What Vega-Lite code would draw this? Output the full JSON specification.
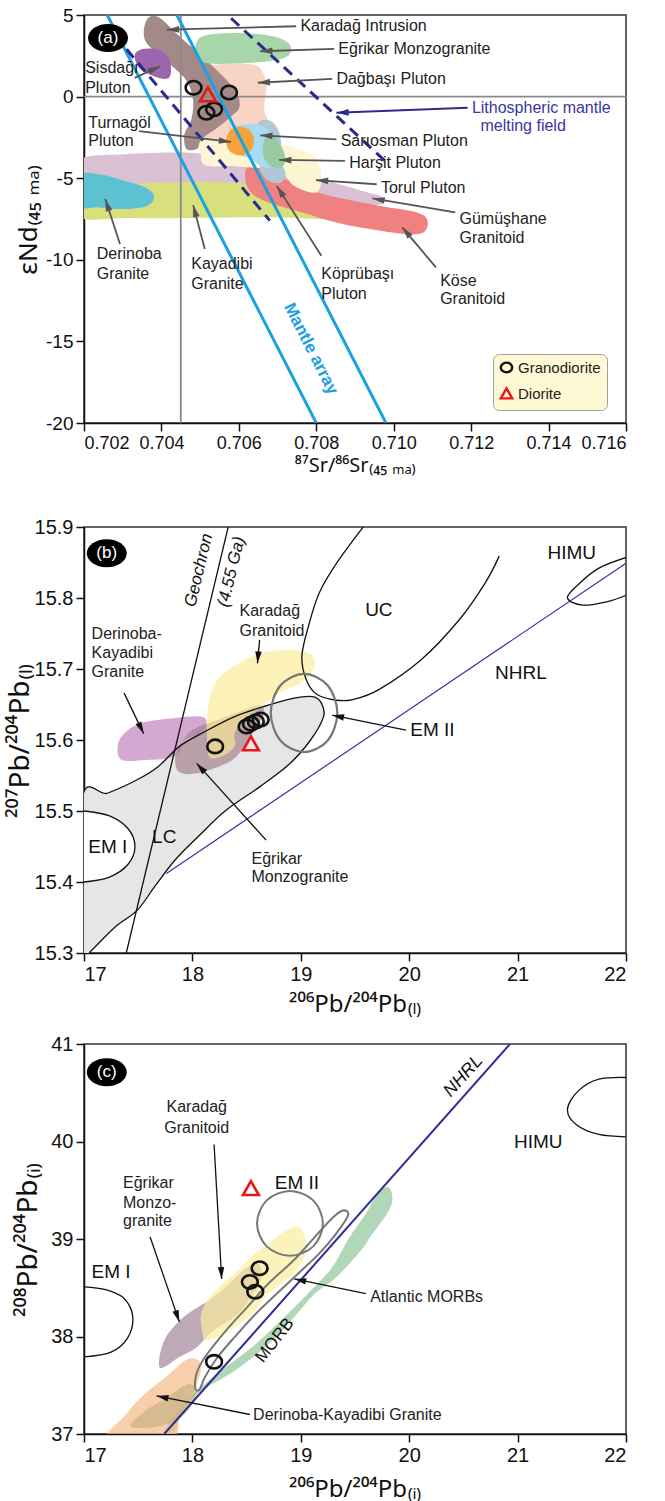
{
  "$schema": "https://vega.github.io/schema/vega-lite/v6.json",
  "background": "white",
  "padding": {"left": 5, "top": 5, "right": 5, "bottom": 0},
  "bounds": "flush",
  "spacing": 104,
  "config": {
    "font": "Liberation Sans",
    "view": {"stroke": "#333", "strokeWidth": 1.5},
    "axis": {
      "grid": false, "domainColor": "#111", "domainWidth": 1.5, "tickColor": "#111", "tickWidth": 1.5, "tickSize": 8,
      "labelFont": "Liberation Sans", "labelFontSize": 19, "labelColor": "#111", "labelPadding": 3,
      "titleFont": "Noto Sans", "titleFontWeight": "normal", "titleColor": "#111"
    },
    "text": {"font": "Liberation Sans"}
  },
  "datasets": {
    "blob": [
      {"p":"a","k":"a01","x":0.7019,"y":-3.84},{"p":"a","k":"a01","x":0.703041,"y":-3.53},{"p":"a","k":"a01","x":0.704355,"y":-3.43},{"p":"a","k":"a01","x":0.705232,"y":-3.53},{"p":"a","k":"a01","x":0.705889,"y":-3.84},{"p":"a","k":"a01","x":0.706327,"y":-4.14},{"p":"a","k":"a01","x":0.707423,"y":-4.45},{"p":"a","k":"a01","x":0.708299,"y":-5.16},{"p":"a","k":"a01","x":0.709175,"y":-5.77},{"p":"a","k":"a01","x":0.709723,"y":-6.18},{"p":"a","k":"a01","x":0.709669,"y":-6.59},{"p":"a","k":"a01","x":0.709175,"y":-6.59},{"p":"a","k":"a01","x":0.708299,"y":-6.08},{"p":"a","k":"a01","x":0.707423,"y":-5.67},{"p":"a","k":"a01","x":0.706327,"y":-5.37},{"p":"a","k":"a01","x":0.705232,"y":-5.37},{"p":"a","k":"a01","x":0.704136,"y":-5.37},{"p":"a","k":"a01","x":0.703041,"y":-5.47},{"p":"a","k":"a01","x":0.7019,"y":-5.47},
      {"p":"a","k":"a02","x":0.7019,"y":-5.47},{"p":"a","k":"a02","x":0.703041,"y":-5.37},{"p":"a","k":"a02","x":0.704136,"y":-5.26},{"p":"a","k":"a02","x":0.705232,"y":-5.22},{"p":"a","k":"a02","x":0.706327,"y":-5.37},{"p":"a","k":"a02","x":0.707423,"y":-5.88},{"p":"a","k":"a02","x":0.708299,"y":-6.59},{"p":"a","k":"a02","x":0.709066,"y":-7.2},{"p":"a","k":"a02","x":0.708518,"y":-7.51},{"p":"a","k":"a02","x":0.707423,"y":-7.44},{"p":"a","k":"a02","x":0.706327,"y":-7.4},{"p":"a","k":"a02","x":0.704136,"y":-7.46},{"p":"a","k":"a02","x":0.703041,"y":-7.44},{"p":"a","k":"a02","x":0.7019,"y":-7.4},
      {"p":"a","k":"a03","x":0.7019,"y":-4.86},{"p":"a","k":"a03","x":0.702383,"y":-4.76},{"p":"a","k":"a03","x":0.703041,"y":-5.16},{"p":"a","k":"a03","x":0.703588,"y":-5.57},{"p":"a","k":"a03","x":0.703808,"y":-6.08},{"p":"a","k":"a03","x":0.703643,"y":-6.69},{"p":"a","k":"a03","x":0.703041,"y":-6.89},{"p":"a","k":"a03","x":0.702383,"y":-6.79},{"p":"a","k":"a03","x":0.7019,"y":-6.69},
      {"p":"a","k":"a04","x":0.706163,"y":-4.65},{"p":"a","k":"a04","x":0.706327,"y":-4.25},{"p":"a","k":"a04","x":0.706765,"y":-4.35},{"p":"a","k":"a04","x":0.707204,"y":-5.06},{"p":"a","k":"a04","x":0.707861,"y":-5.77},{"p":"a","k":"a04","x":0.708737,"y":-6.28},{"p":"a","k":"a04","x":0.709614,"y":-6.69},{"p":"a","k":"a04","x":0.7106,"y":-7.1},{"p":"a","k":"a04","x":0.710874,"y":-7.61},{"p":"a","k":"a04","x":0.710764,"y":-8.32},{"p":"a","k":"a04","x":0.710271,"y":-8.42},{"p":"a","k":"a04","x":0.709395,"y":-8.12},{"p":"a","k":"a04","x":0.708518,"y":-7.71},{"p":"a","k":"a04","x":0.707642,"y":-7.1},{"p":"a","k":"a04","x":0.706765,"y":-6.49},{"p":"a","k":"a04","x":0.706272,"y":-5.77},
      {"p":"a","k":"a05","x":0.705013,"y":-2.62},{"p":"a","k":"a05","x":0.705451,"y":-2.31},{"p":"a","k":"a05","x":0.705999,"y":-2.52},{"p":"a","k":"a05","x":0.706765,"y":-2.82},{"p":"a","k":"a05","x":0.707423,"y":-3.13},{"p":"a","k":"a05","x":0.707916,"y":-3.64},{"p":"a","k":"a05","x":0.708135,"y":-4.65},{"p":"a","k":"a05","x":0.70808,"y":-5.67},{"p":"a","k":"a05","x":0.707861,"y":-5.88},{"p":"a","k":"a05","x":0.707423,"y":-5.47},{"p":"a","k":"a05","x":0.707204,"y":-4.86},{"p":"a","k":"a05","x":0.706875,"y":-4.45},{"p":"a","k":"a05","x":0.706327,"y":-4.35},{"p":"a","k":"a05","x":0.705779,"y":-4.25},{"p":"a","k":"a05","x":0.705122,"y":-4.21},{"p":"a","k":"a05","x":0.705013,"y":-3.43},
      {"p":"a","k":"a06","x":0.705232,"y":1.76},{"p":"a","k":"a06","x":0.705451,"y":1.97},{"p":"a","k":"a06","x":0.706327,"y":1.97},{"p":"a","k":"a06","x":0.706601,"y":1.56},{"p":"a","k":"a06","x":0.706711,"y":0.64},{"p":"a","k":"a06","x":0.706656,"y":-0.78},{"p":"a","k":"a06","x":0.706765,"y":-1.6},{"p":"a","k":"a06","x":0.706656,"y":-2.21},{"p":"a","k":"a06","x":0.705889,"y":-2.62},{"p":"a","k":"a06","x":0.705122,"y":-2.62},{"p":"a","k":"a06","x":0.705013,"y":-1.8},{"p":"a","k":"a06","x":0.705232,"y":-0.58},{"p":"a","k":"a06","x":0.705341,"y":0.64},
      {"p":"a","k":"a07","x":0.70361,"y":4.67},{"p":"a","k":"a07","x":0.703917,"y":4.88},{"p":"a","k":"a07","x":0.704465,"y":3.7},{"p":"a","k":"a07","x":0.705232,"y":2.07},{"p":"a","k":"a07","x":0.705889,"y":0.44},{"p":"a","k":"a07","x":0.70602,"y":-0.58},{"p":"a","k":"a07","x":0.705834,"y":-1.15},{"p":"a","k":"a07","x":0.705451,"y":-1.9},{"p":"a","k":"a07","x":0.705035,"y":-2.62},{"p":"a","k":"a07","x":0.704925,"y":-3.19},{"p":"a","k":"a07","x":0.70464,"y":-3.19},{"p":"a","k":"a07","x":0.704596,"y":-2.31},{"p":"a","k":"a07","x":0.704772,"y":-1.4},{"p":"a","k":"a07","x":0.704815,"y":-0.17},{"p":"a","k":"a07","x":0.704629,"y":1.05},{"p":"a","k":"a07","x":0.704136,"y":2.17},{"p":"a","k":"a07","x":0.703588,"y":3.39},
      {"p":"a","k":"a08","x":0.704903,"y":3.29},{"p":"a","k":"a08","x":0.705122,"y":3.74},{"p":"a","k":"a08","x":0.705889,"y":3.9},{"p":"a","k":"a08","x":0.706875,"y":3.7},{"p":"a","k":"a08","x":0.707313,"y":3.19},{"p":"a","k":"a08","x":0.707258,"y":2.47},{"p":"a","k":"a08","x":0.706765,"y":2.17},{"p":"a","k":"a08","x":0.705889,"y":2.03},{"p":"a","k":"a08","x":0.705122,"y":2.07},{"p":"a","k":"a08","x":0.704903,"y":2.68},
      {"p":"a","k":"a09","x":0.703315,"y":2.58},{"p":"a","k":"a09","x":0.703534,"y":2.92},{"p":"a","k":"a09","x":0.703917,"y":2.88},{"p":"a","k":"a09","x":0.704191,"y":2.37},{"p":"a","k":"a09","x":0.704246,"y":1.46},{"p":"a","k":"a09","x":0.704136,"y":1.09},{"p":"a","k":"a09","x":0.703808,"y":1.25},{"p":"a","k":"a09","x":0.703424,"y":1.76},
      {"p":"a","k":"a10","x":0.706492,"y":-1.6},{"p":"a","k":"a10","x":0.706765,"y":-1.44},{"p":"a","k":"a10","x":0.706985,"y":-1.9},{"p":"a","k":"a10","x":0.707094,"y":-2.82},{"p":"a","k":"a10","x":0.707039,"y":-3.84},{"p":"a","k":"a10","x":0.707204,"y":-4.65},{"p":"a","k":"a10","x":0.707094,"y":-5.26},{"p":"a","k":"a10","x":0.706765,"y":-5.16},{"p":"a","k":"a10","x":0.706546,"y":-4.45},{"p":"a","k":"a10","x":0.706601,"y":-3.64},{"p":"a","k":"a10","x":0.706492,"y":-2.62},
      {"p":"a","k":"a11","x":0.705889,"y":-2.01},{"p":"a","k":"a11","x":0.706218,"y":-1.7},{"p":"a","k":"a11","x":0.706601,"y":-1.8},{"p":"a","k":"a11","x":0.706875,"y":-2.41},{"p":"a","k":"a11","x":0.707039,"y":-3.33},{"p":"a","k":"a11","x":0.706985,"y":-4.14},{"p":"a","k":"a11","x":0.706656,"y":-4.35},{"p":"a","k":"a11","x":0.706327,"y":-3.84},{"p":"a","k":"a11","x":0.705999,"y":-3.43},
      {"p":"a","k":"a12","x":0.706656,"y":-2.62},{"p":"a","k":"a12","x":0.706875,"y":-2.41},{"p":"a","k":"a12","x":0.707094,"y":-3.02},{"p":"a","k":"a12","x":0.707204,"y":-3.84},{"p":"a","k":"a12","x":0.707094,"y":-4.35},{"p":"a","k":"a12","x":0.70682,"y":-4.25},{"p":"a","k":"a12","x":0.706634,"y":-3.64},
      {"p":"a","k":"a13","x":0.70639,"y":-2.72},{"p":"a","k":"a13","x":0.70629,"y":-2.09},{"p":"a","k":"a13","x":0.70603,"y":-1.83},{"p":"a","k":"a13","x":0.70577,"y":-2.09},{"p":"a","k":"a13","x":0.70567,"y":-2.72},{"p":"a","k":"a13","x":0.70577,"y":-3.35},{"p":"a","k":"a13","x":0.70603,"y":-3.61},{"p":"a","k":"a13","x":0.70629,"y":-3.35},
      {"p":"b","k":"b02","x":17.37,"y":15.609},{"p":"b","k":"b02","x":17.53,"y":15.624},{"p":"b","k":"b02","x":17.84,"y":15.631},{"p":"b","k":"b02","x":18.08,"y":15.633},{"p":"b","k":"b02","x":18.13,"y":15.624},{"p":"b","k":"b02","x":18.08,"y":15.609},{"p":"b","k":"b02","x":17.92,"y":15.6},{"p":"b","k":"b02","x":17.88,"y":15.581},{"p":"b","k":"b02","x":17.76,"y":15.574},{"p":"b","k":"b02","x":17.57,"y":15.572},{"p":"b","k":"b02","x":17.35,"y":15.572},{"p":"b","k":"b02","x":17.31,"y":15.591},
      {"p":"b","k":"b03","x":17.88,"y":15.591},{"p":"b","k":"b03","x":18.0,"y":15.614},{"p":"b","k":"b03","x":18.23,"y":15.628},{"p":"b","k":"b03","x":18.47,"y":15.642},{"p":"b","k":"b03","x":18.62,"y":15.649},{"p":"b","k":"b03","x":18.66,"y":15.638},{"p":"b","k":"b03","x":18.55,"y":15.609},{"p":"b","k":"b03","x":18.43,"y":15.581},{"p":"b","k":"b03","x":18.31,"y":15.567},{"p":"b","k":"b03","x":18.04,"y":15.553},{"p":"b","k":"b03","x":17.88,"y":15.555},{"p":"b","k":"b03","x":17.84,"y":15.572},
      {"p":"b","k":"b04","x":18.154,"y":15.656},{"p":"b","k":"b04","x":18.232,"y":15.685},{"p":"b","k":"b04","x":18.428,"y":15.708},{"p":"b","k":"b04","x":18.624,"y":15.722},{"p":"b","k":"b04","x":18.898,"y":15.727},{"p":"b","k":"b04","x":19.093,"y":15.721},{"p":"b","k":"b04","x":19.124,"y":15.703},{"p":"b","k":"b04","x":19.015,"y":15.682},{"p":"b","k":"b04","x":18.8,"y":15.666},{"p":"b","k":"b04","x":18.624,"y":15.645},{"p":"b","k":"b04","x":18.467,"y":15.628},{"p":"b","k":"b04","x":18.389,"y":15.609},{"p":"b","k":"b04","x":18.389,"y":15.591},{"p":"b","k":"b04","x":18.27,"y":15.577},{"p":"b","k":"b04","x":18.154,"y":15.577},{"p":"b","k":"b04","x":18.135,"y":15.609},
      {"p":"c","k":"c01","x":19.82,"y":39.52},{"p":"c","k":"c01","x":19.83,"y":39.33},{"p":"c","k":"c01","x":19.64,"y":39.02},{"p":"c","k":"c01","x":19.56,"y":38.89},{"p":"c","k":"c01","x":19.33,"y":38.61},{"p":"c","k":"c01","x":19.13,"y":38.44},{"p":"c","k":"c01","x":18.94,"y":38.2},{"p":"c","k":"c01","x":18.7,"y":37.92},{"p":"c","k":"c01","x":18.39,"y":37.65},{"p":"c","k":"c01","x":18.08,"y":37.44},{"p":"c","k":"c01","x":17.92,"y":37.24},{"p":"c","k":"c01","x":17.8,"y":36.95},{"p":"c","k":"c01","x":17.7,"y":36.95},{"p":"c","k":"c01","x":17.92,"y":37.31},{"p":"c","k":"c01","x":18.23,"y":37.62},{"p":"c","k":"c01","x":18.55,"y":37.89},{"p":"c","k":"c01","x":18.82,"y":38.17},{"p":"c","k":"c01","x":19.09,"y":38.47},{"p":"c","k":"c01","x":19.29,"y":38.71},{"p":"c","k":"c01","x":19.45,"y":39.02},{"p":"c","k":"c01","x":19.6,"y":39.26},{"p":"c","k":"c01","x":19.72,"y":39.49},
      {"p":"c","k":"c02","x":17.22,"y":36.95},{"p":"c","k":"c02","x":17.37,"y":37.18},{"p":"c","k":"c02","x":17.53,"y":37.38},{"p":"c","k":"c02","x":17.76,"y":37.59},{"p":"c","k":"c02","x":17.96,"y":37.77},{"p":"c","k":"c02","x":18.08,"y":37.72},{"p":"c","k":"c02","x":18.04,"y":37.51},{"p":"c","k":"c02","x":17.96,"y":37.34},{"p":"c","k":"c02","x":17.88,"y":37.17},{"p":"c","k":"c02","x":17.8,"y":36.95},
      {"p":"c","k":"c03","x":17.43,"y":37.08},{"p":"c","k":"c03","x":17.57,"y":37.24},{"p":"c","k":"c03","x":17.76,"y":37.37},{"p":"c","k":"c03","x":17.96,"y":37.51},{"p":"c","k":"c03","x":18.04,"y":37.44},{"p":"c","k":"c03","x":17.98,"y":37.27},{"p":"c","k":"c03","x":17.84,"y":37.13},{"p":"c","k":"c03","x":17.65,"y":37.07},
      {"p":"c","k":"c04","x":17.7,"y":37.68},{"p":"c","k":"c04","x":17.74,"y":37.96},{"p":"c","k":"c04","x":17.92,"y":38.2},{"p":"c","k":"c04","x":18.15,"y":38.37},{"p":"c","k":"c04","x":18.31,"y":38.51},{"p":"c","k":"c04","x":18.47,"y":38.68},{"p":"c","k":"c04","x":18.6,"y":38.75},{"p":"c","k":"c04","x":18.64,"y":38.61},{"p":"c","k":"c04","x":18.55,"y":38.41},{"p":"c","k":"c04","x":18.39,"y":38.2},{"p":"c","k":"c04","x":18.19,"y":38.06},{"p":"c","k":"c04","x":18.04,"y":37.89},{"p":"c","k":"c04","x":17.88,"y":37.79},
      {"p":"c","k":"c05","x":18.1,"y":37.99},{"p":"c","k":"c05","x":18.08,"y":38.23},{"p":"c","k":"c05","x":18.19,"y":38.44},{"p":"c","k":"c05","x":18.39,"y":38.65},{"p":"c","k":"c05","x":18.62,"y":38.89},{"p":"c","k":"c05","x":18.9,"y":39.11},{"p":"c","k":"c05","x":19.01,"y":39.09},{"p":"c","k":"c05","x":19.05,"y":38.89},{"p":"c","k":"c05","x":18.94,"y":38.65},{"p":"c","k":"c05","x":18.7,"y":38.44},{"p":"c","k":"c05","x":18.55,"y":38.23},{"p":"c","k":"c05","x":18.39,"y":38.1},{"p":"c","k":"c05","x":18.23,"y":37.99},{"p":"c","k":"c05","x":18.11,"y":37.96}
    ],
    "curve": [
      {"p":"a","k":"grayV","x":0.7045,"y":5},{"p":"a","k":"grayV","x":0.7045,"y":-20},
      {"p":"a","k":"grayH","x":0.702,"y":0},{"p":"a","k":"grayH","x":0.716,"y":0},
      {"p":"a","k":"mantle1","x":0.7026,"y":5},{"p":"a","k":"mantle1","x":0.708,"y":-20},
      {"p":"a","k":"mantle2","x":0.7044,"y":5},{"p":"a","k":"mantle2","x":0.7098,"y":-20},
      {"p":"a","k":"dash1","x":0.7031,"y":2.9},{"p":"a","k":"dash1","x":0.7068,"y":-7.6},
      {"p":"a","k":"dash2","x":0.7058,"y":4.8},{"p":"a","k":"dash2","x":0.7098,"y":-4.0},
      {"p":"b","k":"lc","x":16.98,"y":15.515},{"p":"b","k":"lc","x":17.215,"y":15.525},{"p":"b","k":"lc","x":17.49,"y":15.544},{"p":"b","k":"lc","x":17.68,"y":15.562},{"p":"b","k":"lc","x":17.88,"y":15.591},{"p":"b","k":"lc","x":18.08,"y":15.609},{"p":"b","k":"lc","x":18.39,"y":15.633},{"p":"b","k":"lc","x":18.7,"y":15.649},{"p":"b","k":"lc","x":18.94,"y":15.659},{"p":"b","k":"lc","x":19.11,"y":15.661},{"p":"b","k":"lc","x":19.19,"y":15.652},{"p":"b","k":"lc","x":19.21,"y":15.633},{"p":"b","k":"lc","x":19.09,"y":15.6},{"p":"b","k":"lc","x":18.9,"y":15.567},{"p":"b","k":"lc","x":18.62,"y":15.534},{"p":"b","k":"lc","x":18.31,"y":15.501},{"p":"b","k":"lc","x":18.08,"y":15.468},{"p":"b","k":"lc","x":17.84,"y":15.431},{"p":"b","k":"lc","x":17.65,"y":15.393},{"p":"b","k":"lc","x":17.49,"y":15.36},{"p":"b","k":"lc","x":17.29,"y":15.337},{"p":"b","k":"lc","x":17.06,"y":15.302},{"p":"b","k":"lc","x":16.98,"y":15.29},
      {"p":"b","k":"em1","x":17.0,"y":15.5},{"p":"b","k":"em1","x":17.235,"y":15.493},{"p":"b","k":"em1","x":17.407,"y":15.475},{"p":"b","k":"em1","x":17.47,"y":15.45},{"p":"b","k":"em1","x":17.407,"y":15.425},{"p":"b","k":"em1","x":17.235,"y":15.407},{"p":"b","k":"em1","x":17.0,"y":15.4},
      {"p":"b","k":"uc","x":19.6,"y":15.905},{"p":"b","k":"uc","x":19.33,"y":15.849},{"p":"b","k":"uc","x":19.17,"y":15.807},{"p":"b","k":"uc","x":19.07,"y":15.76},{"p":"b","k":"uc","x":19.01,"y":15.718},{"p":"b","k":"uc","x":19.05,"y":15.685},{"p":"b","k":"uc","x":19.15,"y":15.664},{"p":"b","k":"uc","x":19.33,"y":15.656},{"p":"b","k":"uc","x":19.48,"y":15.657},{"p":"b","k":"uc","x":19.72,"y":15.671},{"p":"b","k":"uc","x":20.11,"y":15.713},{"p":"b","k":"uc","x":20.46,"y":15.769},{"p":"b","k":"uc","x":20.7,"y":15.821},{"p":"b","k":"uc","x":20.83,"y":15.859},
      {"p":"b","k":"geo","x":17.39,"y":15.3},{"p":"b","k":"geo","x":18.33,"y":15.9},
      {"p":"b","k":"himu","x":22.02,"y":15.858},{"p":"b","k":"himu","x":21.75,"y":15.842},{"p":"b","k":"himu","x":21.56,"y":15.819},{"p":"b","k":"himu","x":21.46,"y":15.8},{"p":"b","k":"himu","x":21.6,"y":15.79},{"p":"b","k":"himu","x":21.83,"y":15.795},{"p":"b","k":"himu","x":22.02,"y":15.805},
      {"p":"b","k":"nhrl","x":17.76,"y":15.412},{"p":"b","k":"nhrl","x":22.0,"y":15.849},
      {"p":"b","k":"em2","x":19.337,"y":15.638},{"p":"b","k":"em2","x":19.247,"y":15.677},{"p":"b","k":"em2","x":19.03,"y":15.693},{"p":"b","k":"em2","x":18.813,"y":15.677},{"p":"b","k":"em2","x":18.723,"y":15.638},{"p":"b","k":"em2","x":18.813,"y":15.599},{"p":"b","k":"em2","x":19.03,"y":15.583},{"p":"b","k":"em2","x":19.247,"y":15.599},
      {"p":"c","k":"em1","x":17.0,"y":38.51},{"p":"c","k":"em1","x":17.2,"y":38.48},{"p":"c","k":"em1","x":17.37,"y":38.39},{"p":"c","k":"em1","x":17.45,"y":38.2},{"p":"c","k":"em1","x":17.4,"y":37.98},{"p":"c","k":"em1","x":17.25,"y":37.84},{"p":"c","k":"em1","x":17.0,"y":37.79},
      {"p":"c","k":"himu","x":22.02,"y":40.656},{"p":"c","k":"himu","x":21.75,"y":40.639},{"p":"c","k":"himu","x":21.56,"y":40.519},{"p":"c","k":"himu","x":21.46,"y":40.33},{"p":"c","k":"himu","x":21.54,"y":40.175},{"p":"c","k":"himu","x":21.75,"y":40.072},{"p":"c","k":"himu","x":22.02,"y":40.048},
      {"p":"c","k":"nhrl","x":17.74,"y":37.0},{"p":"c","k":"nhrl","x":20.93,"y":41.0},
      {"p":"c","k":"em2","x":19.204,"y":39.16},{"p":"c","k":"em2","x":19.115,"y":39.396},{"p":"c","k":"em2","x":18.9,"y":39.493},{"p":"c","k":"em2","x":18.685,"y":39.396},{"p":"c","k":"em2","x":18.596,"y":39.16},{"p":"c","k":"em2","x":18.685,"y":38.924},{"p":"c","k":"em2","x":18.9,"y":38.827},{"p":"c","k":"em2","x":19.115,"y":38.924},
      {"p":"c","k":"amorb","x":19.387,"y":39.292},{"p":"c","k":"amorb","x":19.437,"y":39.247},{"p":"c","k":"amorb","x":19.328,"y":39.058},{"p":"c","k":"amorb","x":19.171,"y":38.852},{"p":"c","k":"amorb","x":18.976,"y":38.646},{"p":"c","k":"amorb","x":18.78,"y":38.44},{"p":"c","k":"amorb","x":18.585,"y":38.234},{"p":"c","k":"amorb","x":18.389,"y":37.993},{"p":"c","k":"amorb","x":18.232,"y":37.787},{"p":"c","k":"amorb","x":18.115,"y":37.581},{"p":"c","k":"amorb","x":18.068,"y":37.46},{"p":"c","k":"amorb","x":18.029,"y":37.46},{"p":"c","k":"amorb","x":18.037,"y":37.615},{"p":"c","k":"amorb","x":18.115,"y":37.787},{"p":"c","k":"amorb","x":18.311,"y":38.062},{"p":"c","k":"amorb","x":18.506,"y":38.302},{"p":"c","k":"amorb","x":18.702,"y":38.543},{"p":"c","k":"amorb","x":18.937,"y":38.784},{"p":"c","k":"amorb","x":19.132,"y":39.024},{"p":"c","k":"amorb","x":19.289,"y":39.213}
    ],
    "arrow": [
      {"p":"a","s":"g","x":0.70414,"y":4.1,"x2":0.70748,"y2":4.31},
      {"p":"a","s":"g","x":0.70655,"y":2.78,"x2":0.70846,"y2":2.92},
      {"p":"a","s":"g","x":0.70649,"y":0.85,"x2":0.70841,"y2":1.09},
      {"p":"a","s":"n","x":0.70852,"y":-0.99,"x2":0.71191,"y2":-0.68},
      {"p":"a","s":"g","x":0.7058,"y":-2.78,"x2":0.70342,"y2":-2.11},
      {"p":"a","s":"g","x":0.70397,"y":1.86,"x2":0.70331,"y2":1.15},
      {"p":"a","s":"g","x":0.70655,"y":-2.37,"x2":0.70852,"y2":-2.62},
      {"p":"a","s":"g","x":0.70704,"y":-3.88,"x2":0.70874,"y2":-3.94},
      {"p":"a","s":"g","x":0.70799,"y":-5.12,"x2":0.70956,"y2":-5.37},
      {"p":"a","s":"g","x":0.70945,"y":-6.24,"x2":0.71159,"y2":-7.1},
      {"p":"a","s":"g","x":0.71022,"y":-8.01,"x2":0.71109,"y2":-10.46},
      {"p":"a","s":"g","x":0.70698,"y":-5.47,"x2":0.70813,"y2":-9.75},
      {"p":"a","s":"g","x":0.70482,"y":-6.65,"x2":0.70512,"y2":-9.34},
      {"p":"a","s":"g","x":0.70255,"y":-6.28,"x2":0.70293,"y2":-9.03},
      {"p":"b","s":"k","x":17.55,"y":15.609,"x2":17.37,"y2":15.666},
      {"p":"b","s":"k","x":18.6,"y":15.708,"x2":18.62,"y2":15.741},
      {"p":"b","s":"k","x":18.04,"y":15.567,"x2":18.68,"y2":15.459},
      {"p":"b","s":"k","x":19.29,"y":15.635,"x2":19.97,"y2":15.614},
      {"p":"c","s":"k","x":18.27,"y":38.59,"x2":18.2,"y2":39.97},
      {"p":"c","s":"k","x":17.88,"y":38.15,"x2":17.61,"y2":39.02},
      {"p":"c","s":"k","x":18.94,"y":38.59,"x2":19.6,"y2":38.44},
      {"p":"c","s":"k","x":17.67,"y":37.39,"x2":18.53,"y2":37.2}
    ],
    "lab": [
      {"p":"a","g":"L","t":"Karadağ Intrusion","x":0.70759,"y":4.31},
      {"p":"a","g":"L","t":"Eğrikar Monzogranite","x":0.70857,"y":2.92},
      {"p":"a","g":"L","t":"Dağbaşı Pluton","x":0.70852,"y":1.09},
      {"p":"a","g":"L","t":"Sisdağı","x":0.70203,"y":1.76},
      {"p":"a","g":"L","t":"Pluton","x":0.70203,"y":0.54},
      {"p":"a","g":"L","t":"Turnagöl","x":0.70211,"y":-1.6},
      {"p":"a","g":"L","t":"Pluton","x":0.70211,"y":-2.72},
      {"p":"a","g":"L","t":"Sarıosman Pluton","x":0.70863,"y":-2.72},
      {"p":"a","g":"L","t":"Harşit Pluton","x":0.70885,"y":-4.04},
      {"p":"a","g":"L","t":"Torul Pluton","x":0.70967,"y":-5.57},
      {"p":"a","g":"L","t":"Gümüşhane","x":0.7117,"y":-7.5},
      {"p":"a","g":"L","t":"Granitoid","x":0.7117,"y":-8.69},
      {"p":"a","g":"L","t":"Köse","x":0.7112,"y":-11.27},
      {"p":"a","g":"L","t":"Granitoid","x":0.7112,"y":-12.39},
      {"p":"a","g":"L","t":"Köprübaşı","x":0.70813,"y":-10.87},
      {"p":"a","g":"L","t":"Pluton","x":0.70813,"y":-12.09},
      {"p":"a","g":"L","t":"Kayadibi","x":0.70477,"y":-10.25},
      {"p":"a","g":"L","t":"Granite","x":0.70477,"y":-11.48},
      {"p":"a","g":"L","t":"Derinoba","x":0.70233,"y":-9.64},
      {"p":"a","g":"L","t":"Granite","x":0.70233,"y":-10.87},
      {"p":"a","g":"N","t":"Lithospheric mantle","x":0.71202,"y":-0.68},
      {"p":"a","g":"N","t":"melting field","x":0.71224,"y":-1.8},
      {"p":"a","g":"M","t":"Mantle array","x":0.70786,"y":-15.45},
      {"p":"b","g":"L","t":"Derinoba-","x":17.07,"y":15.75},
      {"p":"b","g":"L","t":"Kayadibi","x":17.07,"y":15.722},
      {"p":"b","g":"L","t":"Granite","x":17.07,"y":15.696},
      {"p":"b","g":"L","t":"Karadağ","x":18.435,"y":15.781},
      {"p":"b","g":"L","t":"Granitoid","x":18.435,"y":15.754},
      {"p":"b","g":"L","t":"Eğrikar","x":18.545,"y":15.433},
      {"p":"b","g":"L","t":"Monzogranite","x":18.545,"y":15.407},
      {"p":"b","g":"B","t":"EM II","x":20.01,"y":15.614},
      {"p":"b","g":"C","t":"UC","x":19.72,"y":15.783},
      {"p":"b","g":"C","t":"LC","x":17.74,"y":15.464},
      {"p":"b","g":"C","t":"EM I","x":17.22,"y":15.45},
      {"p":"b","g":"C","t":"HIMU","x":21.5,"y":15.863},
      {"p":"b","g":"C","t":"NHRL","x":21.03,"y":15.694},
      {"p":"b","g":"G","t":"Geochron","x":18.06,"y":15.839},
      {"p":"b","g":"G","t":"(4.55 Ga)","x":18.36,"y":15.837},
      {"p":"c","g":"L","t":"Eğrikar","x":17.36,"y":39.57},
      {"p":"c","g":"L","t":"Monzo-","x":17.36,"y":39.37},
      {"p":"c","g":"L","t":"granite","x":17.36,"y":39.18},
      {"p":"c","g":"L","t":"Atlantic MORBs","x":19.64,"y":38.41},
      {"p":"c","g":"L","t":"Derinoba-Kayadibi Granite","x":18.56,"y":37.19},
      {"p":"c","g":"B","t":"EM II","x":18.76,"y":39.57},
      {"p":"c","g":"S","t":"Karadağ","x":18.04,"y":40.35},
      {"p":"c","g":"S","t":"Granitoid","x":18.04,"y":40.14},
      {"p":"c","g":"C","t":"HIMU","x":21.19,"y":40.0},
      {"p":"c","g":"C","t":"EM I","x":17.25,"y":38.66},
      {"p":"c","g":"R","t":"NHRL","x":20.5,"y":40.67},
      {"p":"c","g":"Q","t":"MORB","x":18.76,"y":37.96}
    ],
    "pt": [
      {"p":"a","rock":"Granodiorite","x":0.70483,"y":0.54},
      {"p":"a","rock":"Granodiorite","x":0.705747,"y":0.25},
      {"p":"a","rock":"Granodiorite","x":0.70516,"y":-0.99},
      {"p":"a","rock":"Granodiorite","x":0.70536,"y":-0.78},
      {"p":"a","rock":"Diorite","x":0.7052,"y":0.13},
      {"p":"b","rock":"Granodiorite","x":18.21,"y":15.591},
      {"p":"b","rock":"Granodiorite","x":18.5,"y":15.619},
      {"p":"b","rock":"Granodiorite","x":18.54,"y":15.623},
      {"p":"b","rock":"Granodiorite","x":18.585,"y":15.626},
      {"p":"b","rock":"Granodiorite","x":18.63,"y":15.629},
      {"p":"b","rock":"Diorite","x":18.54,"y":15.595},
      {"p":"c","rock":"Granodiorite","x":18.62,"y":38.7},
      {"p":"c","rock":"Granodiorite","x":18.53,"y":38.56},
      {"p":"c","rock":"Granodiorite","x":18.58,"y":38.46},
      {"p":"c","rock":"Granodiorite","x":18.2,"y":37.74},
      {"p":"c","rock":"Diorite","x":18.54,"y":39.52}
    ],
    "tag": [
      {"p":"a","t":"(a)","x":0.70262,"y":3.59},
      {"p":"b","t":"(b)","x":17.21,"y":15.863},
      {"p":"c","t":"(c)","x":17.21,"y":40.71}
    ]
  },
  "vconcat": [
    {
      "width": 542, "height": 408,
      "encoding": {
        "x": {"field": "x", "type": "quantitative", "scale": {"domain": [0.702, 0.716], "nice": false, "zero": false},
              "axis": {"values": [0.702,0.704,0.706,0.708,0.71,0.712,0.714,0.716], "format": ".3f", "labelFontSize": 18, "title": "⁸⁷Sr/⁸⁶Sr₍₄₅ ₘₐ₎", "titleFontSize": 20, "titlePadding": 3}},
        "y": {"field": "y", "type": "quantitative", "scale": {"domain": [-20, 5], "nice": false, "zero": false},
              "axis": {"values": [5,0,-5,-10,-15,-20], "labelExpr": "replace(datum.label, '−', '-')", "title": "ɛNd₍₄₅ ₘₐ₎", "titleFontSize": 26, "titlePadding": 4}}
      },
      "layer": [
        {"data": {"name": "blob"}, "transform": [{"filter": "datum.p == 'a'"}],
         "mark": {"type": "line", "filled": true, "interpolate": "cardinal-closed", "clip": true},
         "encoding": {
           "color": {"field": "k", "type": "nominal", "legend": null, "scale": {
             "domain": ["a01","a02","a03","a04","a05","a06","a07","a08","a09","a10","a11","a12","a13","b02","b03","b04","c01","c02","c03","c04","c05"],
             "range": ["#d9c0d3","#d8e07e","#5cc1d0","#ef8180","#fef6d2","#f8d4c4","#a38a88","#a6d6aa","#9c66ae","#b0c8d6","#a9daf3","#96cba3","#f5a23a","#cc99c8","#a7838f","#fbe98f","#a3cfab","#f6bb87","#c4b07e","#b39aaa","#fbee9e"]}},
           "order": {"value": null}}},
        {"data": {"name": "curve"}, "transform": [{"filter": "datum.p == 'a' && (datum.k == 'grayV' || datum.k == 'grayH')"}],
         "mark": {"type": "line", "color": "#8a8a8a", "strokeWidth": 1.8},
         "encoding": {"detail": {"field": "k"}, "order": {"value": null}}},
        {"data": {"name": "curve"}, "transform": [{"filter": "datum.k == 'mantle1' || datum.k == 'mantle2'"}],
         "mark": {"type": "line", "color": "#1ba1e2", "strokeWidth": 3, "clip": true},
         "encoding": {"detail": {"field": "k"}, "order": {"value": null}}},
        {"data": {"name": "curve"}, "transform": [{"filter": "datum.k == 'dash1' || datum.k == 'dash2'"}],
         "mark": {"type": "line", "color": "#2a2a8e", "strokeWidth": 3, "strokeDash": [11, 7]},
         "encoding": {"detail": {"field": "k"}, "order": {"value": null}}},
        {"data": {"name": "arrow"}, "transform": [{"filter": "datum.p == 'a' && datum.s == 'g'"}],
         "mark": {"type": "rule", "color": "#555", "strokeWidth": 1.8},
         "encoding": {"x2": {"field": "x2"}, "y2": {"field": "y2"}}},
        {"data": {"name": "arrow"}, "transform": [{"filter": "datum.p == 'a' && datum.s == 'n'"}],
         "mark": {"type": "rule", "color": "#2a2a8e", "strokeWidth": 2},
         "encoding": {"x2": {"field": "x2"}, "y2": {"field": "y2"}}},
        {"data": {"name": "arrow"}, "transform": [{"filter": "datum.p == 'a'"}, {"calculate": "atan2((datum.x - datum.x2) * 38714, (datum.y - datum.y2) * 16.32) * 180 / PI", "as": "ang"}],
         "mark": {"type": "point", "shape": "M0,0L0.55,2L-0.55,2Z", "filled": true, "size": 150, "opacity": 1, "color": "#555"},
         "encoding": {"angle": {"field": "ang", "type": "quantitative", "scale": null},
                      "color": {"condition": {"test": "datum.s == 'n'", "value": "#2a2a8e"}, "value": "#555"}}},
        {"data": {"name": "lab"}, "transform": [{"filter": "datum.p == 'a' && datum.g == 'L'"}],
         "mark": {"type": "text", "align": "left", "baseline": "middle", "fontSize": 16, "color": "#222"},
         "encoding": {"text": {"field": "t"}}},
        {"data": {"name": "lab"}, "transform": [{"filter": "datum.p == 'a' && datum.g == 'N'"}],
         "mark": {"type": "text", "align": "left", "baseline": "middle", "fontSize": 16, "color": "#3a36a0"},
         "encoding": {"text": {"field": "t"}}},
        {"data": {"name": "lab"}, "transform": [{"filter": "datum.p == 'a' && datum.g == 'M'"}],
         "mark": {"type": "text", "align": "center", "baseline": "middle", "fontSize": 17, "fontWeight": "bold", "angle": 63, "color": "#1ba1e2"},
         "encoding": {"text": {"field": "t"}}},
        {"data": {"name": "pt"}, "transform": [{"filter": "datum.p == 'a'"}],
         "mark": {"type": "point", "filled": false, "strokeWidth": 2.6, "size": 250, "opacity": 1},
         "encoding": {
           "shape": {"field": "rock", "type": "nominal", "title": null,
                     "scale": {"domain": ["Granodiorite", "Diorite"], "range": ["M-1,0A1,0.85,0,1,1,1,0A1,0.85,0,1,1,-1,0Z", "M0,-0.9L1,0.85L-1,0.85Z"]},
                     "legend": {"orient": "none", "legendX": 409, "legendY": 339, "fillColor": "#fef8d4", "strokeColor": "#a0a0a0", "cornerRadius": 6, "padding": 6, "labelFontSize": 15, "labelFont": "Liberation Sans", "labelColor": "#222", "labelOffset": 4, "symbolStrokeWidth": 2.4, "symbolSize": 130, "rowPadding": 5}},
           "stroke": {"field": "rock", "type": "nominal", "title": null,
                      "scale": {"domain": ["Granodiorite", "Diorite"], "range": ["#111111", "#e8161b"]},
                      "legend": {"orient": "none", "legendX": 409, "legendY": 339, "fillColor": "#fef8d4", "strokeColor": "#a0a0a0", "cornerRadius": 6, "padding": 6, "labelFontSize": 15, "labelFont": "Liberation Sans", "labelColor": "#222", "labelOffset": 4, "symbolStrokeWidth": 2.4, "symbolSize": 130, "rowPadding": 5}}}},
        {"data": {"name": "tag"}, "transform": [{"filter": "datum.p == 'a'"}],
         "mark": {"type": "point", "shape": "M-1,0A1,0.7,0,1,1,1,0A1,0.7,0,1,1,-1,0Z", "filled": true, "color": "#000", "size": 1600, "opacity": 1}},
        {"data": {"name": "tag"}, "transform": [{"filter": "datum.p == 'a'"}],
         "mark": {"type": "text", "align": "center", "baseline": "middle", "fontSize": 17, "color": "white"},
         "encoding": {"text": {"field": "t"}}}
      ]
    },
    {
      "bounds": "flush",
      "spacing": 91,
      "vconcat": [
        {
          "width": 542, "height": 426,
          "encoding": {
            "x": {"field": "x", "type": "quantitative", "scale": {"domain": [17, 22], "nice": false, "zero": false},
                  "axis": {"values": [17,18,19,20,21,22], "labelFontSize": 20, "title": "²⁰⁶Pb/²⁰⁴Pb₍ₗ₎", "titleFontSize": 24, "titlePadding": 8}},
            "y": {"field": "y", "type": "quantitative", "scale": {"domain": [15.3, 15.9], "nice": false, "zero": false},
                  "axis": {"values": [15.3,15.4,15.5,15.6,15.7,15.8,15.9], "format": ".1f", "labelFontSize": 20, "title": "²⁰⁷Pb/²⁰⁴Pb₍ₗ₎", "titleFontSize": 28, "titlePadding": 0}}
          },
          "layer": [
            {"data": {"name": "curve"}, "transform": [{"filter": "datum.p == 'b' && datum.k == 'lc'"}],
             "mark": {"type": "line", "filled": true, "color": "#e6e6e6", "interpolate": "cardinal-closed", "clip": true},
             "encoding": {"order": {"value": null}}},
            {"data": {"name": "blob"}, "transform": [{"filter": "datum.p == 'b'"}],
             "mark": {"type": "line", "filled": true, "interpolate": "cardinal-closed", "clip": true},
             "encoding": {
               "color": {"field": "k", "type": "nominal", "legend": null, "scale": {
                 "domain": ["a01","a02","a03","a04","a05","a06","a07","a08","a09","a10","a11","a12","a13","b02","b03","b04","c01","c02","c03","c04","c05"],
                 "range": ["#d9c0d3","#d8e07e","#5cc1d0","#ef8180","#fef6d2","#f8d4c4","#a38a88","#a6d6aa","#9c66ae","#b0c8d6","#a9daf3","#96cba3","#f5a23a","#cc99c8","#a7838f","#fbe98f","#a3cfab","#f6bb87","#c4b07e","#b39aaa","#fbee9e"]}},
               "fillOpacity": {"field": "k", "type": "nominal", "legend": null, "scale": {"type": "ordinal", "domain": ["b02","b03","b04"], "range": [0.85, 0.7, 0.65]}},
               "order": {"value": null}}},
            {"data": {"name": "curve"}, "transform": [{"filter": "datum.p == 'b' && datum.k == 'lc'"}],
             "mark": {"type": "line", "color": "#111", "strokeWidth": 1.3, "interpolate": "cardinal-closed", "clip": true},
             "encoding": {"order": {"value": null}}},
            {"data": {"name": "curve"}, "transform": [{"filter": "datum.p == 'b' && datum.k == 'em1'"}],
             "mark": {"type": "line", "fill": "white", "stroke": "#111", "strokeWidth": 1.3, "interpolate": "cardinal", "clip": true},
             "encoding": {"order": {"value": null}}},
            {"data": {"name": "curve"}, "transform": [{"filter": "datum.p == 'b' && (datum.k == 'uc' || datum.k == 'geo' || datum.k == 'himu')"}],
             "mark": {"type": "line", "color": "#111", "strokeWidth": 1.3, "interpolate": "cardinal", "clip": true},
             "encoding": {"detail": {"field": "k"}, "order": {"value": null}}},
            {"data": {"name": "curve"}, "transform": [{"filter": "datum.p == 'b' && datum.k == 'nhrl'"}],
             "mark": {"type": "line", "color": "#3b30a0", "strokeWidth": 1.2, "clip": true},
             "encoding": {"order": {"value": null}}},
            {"data": {"name": "curve"}, "transform": [{"filter": "datum.p == 'b' && datum.k == 'em2'"}],
             "mark": {"type": "line", "color": "#777", "strokeWidth": 2.2, "interpolate": "cardinal-closed", "clip": true},
             "encoding": {"order": {"value": null}}},
            {"data": {"name": "arrow"}, "transform": [{"filter": "datum.p == 'b'"}],
             "mark": {"type": "rule", "color": "#111", "strokeWidth": 1.3},
             "encoding": {"x2": {"field": "x2"}, "y2": {"field": "y2"}}},
            {"data": {"name": "arrow"}, "transform": [{"filter": "datum.p == 'b'"}, {"calculate": "atan2((datum.x - datum.x2) * 108.4, (datum.y - datum.y2) * 710) * 180 / PI", "as": "ang"}],
             "mark": {"type": "point", "shape": "M0,0L0.55,2L-0.55,2Z", "filled": true, "size": 140, "opacity": 1, "color": "#111"},
             "encoding": {"angle": {"field": "ang", "type": "quantitative", "scale": null}}},
            {"data": {"name": "lab"}, "transform": [{"filter": "datum.p == 'b' && datum.g == 'L'"}],
             "mark": {"type": "text", "align": "left", "baseline": "middle", "fontSize": 16, "color": "#222"},
             "encoding": {"text": {"field": "t"}}},
            {"data": {"name": "lab"}, "transform": [{"filter": "datum.p == 'b' && datum.g == 'B'"}],
             "mark": {"type": "text", "align": "left", "baseline": "middle", "fontSize": 19, "color": "#111"},
             "encoding": {"text": {"field": "t"}}},
            {"data": {"name": "lab"}, "transform": [{"filter": "datum.p == 'b' && datum.g == 'C'"}],
             "mark": {"type": "text", "align": "center", "baseline": "middle", "fontSize": 19, "color": "#111"},
             "encoding": {"text": {"field": "t"}}},
            {"data": {"name": "lab"}, "transform": [{"filter": "datum.p == 'b' && datum.g == 'G'"}],
             "mark": {"type": "text", "align": "center", "baseline": "middle", "fontSize": 17, "fontStyle": "italic", "angle": -76.5, "color": "#111"},
             "encoding": {"text": {"field": "t"}}},
            {"data": {"name": "pt"}, "transform": [{"filter": "datum.p == 'b'"}],
             "mark": {"type": "point", "filled": false, "strokeWidth": 2.6, "size": 250, "opacity": 1},
             "encoding": {
               "shape": {"field": "rock", "type": "nominal", "title": null,
                         "scale": {"domain": ["Granodiorite", "Diorite"], "range": ["M-1,0A1,0.85,0,1,1,1,0A1,0.85,0,1,1,-1,0Z", "M0,-0.9L1,0.85L-1,0.85Z"]}},
               "stroke": {"field": "rock", "type": "nominal", "title": null,
                          "scale": {"domain": ["Granodiorite", "Diorite"], "range": ["#111111", "#e8161b"]}}}},
            {"data": {"name": "tag"}, "transform": [{"filter": "datum.p == 'b'"}],
             "mark": {"type": "point", "shape": "M-1,0A1,0.7,0,1,1,1,0A1,0.7,0,1,1,-1,0Z", "filled": true, "color": "#000", "size": 1600, "opacity": 1}},
            {"data": {"name": "tag"}, "transform": [{"filter": "datum.p == 'b'"}],
             "mark": {"type": "text", "align": "center", "baseline": "middle", "fontSize": 17, "color": "white"},
             "encoding": {"text": {"field": "t"}}}
          ]
        },
        {
          "width": 542, "height": 390,
          "encoding": {
            "x": {"field": "x", "type": "quantitative", "scale": {"domain": [17, 22], "nice": false, "zero": false},
                  "axis": {"values": [17,18,19,20,21,22], "labelFontSize": 20, "title": "²⁰⁶Pb/²⁰⁴Pb₍ᵢ₎", "titleFontSize": 24, "titlePadding": 12}},
            "y": {"field": "y", "type": "quantitative", "scale": {"domain": [37, 41], "nice": false, "zero": false},
                  "axis": {"values": [37,38,39,40,41], "labelFontSize": 20, "title": "²⁰⁸Pb/²⁰⁴Pb₍ᵢ₎", "titleFontSize": 28, "titlePadding": 8}}
          },
          "layer": [
            {"data": {"name": "blob"}, "transform": [{"filter": "datum.p == 'c'"}],
             "mark": {"type": "line", "filled": true, "interpolate": "cardinal-closed", "clip": true},
             "encoding": {
               "color": {"field": "k", "type": "nominal", "legend": null, "scale": {
                 "domain": ["a01","a02","a03","a04","a05","a06","a07","a08","a09","a10","a11","a12","a13","b02","b03","b04","c01","c02","c03","c04","c05"],
                 "range": ["#d9c0d3","#d8e07e","#5cc1d0","#ef8180","#fef6d2","#f8d4c4","#a38a88","#a6d6aa","#9c66ae","#b0c8d6","#a9daf3","#96cba3","#f5a23a","#cc99c8","#a7838f","#fbe98f","#a3cfab","#f6bb87","#c4b07e","#b39aaa","#fbee9e"]}},
               "fillOpacity": {"field": "k", "type": "nominal", "legend": null, "scale": {"type": "ordinal", "domain": ["c01","c02","c03","c04","c05"], "range": [0.9, 0.9, 0.6, 0.85, 0.7]}},
               "order": {"value": null}}},
            {"data": {"name": "curve"}, "transform": [{"filter": "datum.p == 'c' && (datum.k == 'em1' || datum.k == 'himu')"}],
             "mark": {"type": "line", "color": "#111", "strokeWidth": 1.3, "interpolate": "cardinal", "clip": true},
             "encoding": {"detail": {"field": "k"}, "order": {"value": null}}},
            {"data": {"name": "curve"}, "transform": [{"filter": "datum.p == 'c' && (datum.k == 'em2' || datum.k == 'amorb')"}],
             "mark": {"type": "line", "color": "#777", "strokeWidth": 2, "interpolate": "cardinal-closed", "clip": true},
             "encoding": {"detail": {"field": "k"}, "order": {"value": null}}},
            {"data": {"name": "curve"}, "transform": [{"filter": "datum.p == 'c' && datum.k == 'nhrl'"}],
             "mark": {"type": "line", "color": "#2e2a9a", "strokeWidth": 2, "clip": true},
             "encoding": {"order": {"value": null}}},
            {"data": {"name": "arrow"}, "transform": [{"filter": "datum.p == 'c'"}],
             "mark": {"type": "rule", "color": "#111", "strokeWidth": 1.3},
             "encoding": {"x2": {"field": "x2"}, "y2": {"field": "y2"}}},
            {"data": {"name": "arrow"}, "transform": [{"filter": "datum.p == 'c'"}, {"calculate": "atan2((datum.x - datum.x2) * 108.4, (datum.y - datum.y2) * 97.5) * 180 / PI", "as": "ang"}],
             "mark": {"type": "point", "shape": "M0,0L0.55,2L-0.55,2Z", "filled": true, "size": 140, "opacity": 1, "color": "#111"},
             "encoding": {"angle": {"field": "ang", "type": "quantitative", "scale": null}}},
            {"data": {"name": "lab"}, "transform": [{"filter": "datum.p == 'c' && datum.g == 'L'"}],
             "mark": {"type": "text", "align": "left", "baseline": "middle", "fontSize": 16, "color": "#222"},
             "encoding": {"text": {"field": "t"}}},
            {"data": {"name": "lab"}, "transform": [{"filter": "datum.p == 'c' && datum.g == 'S'"}],
             "mark": {"type": "text", "align": "center", "baseline": "middle", "fontSize": 16, "color": "#222"},
             "encoding": {"text": {"field": "t"}}},
            {"data": {"name": "lab"}, "transform": [{"filter": "datum.p == 'c' && datum.g == 'B'"}],
             "mark": {"type": "text", "align": "left", "baseline": "middle", "fontSize": 19, "color": "#111"},
             "encoding": {"text": {"field": "t"}}},
            {"data": {"name": "lab"}, "transform": [{"filter": "datum.p == 'c' && datum.g == 'C'"}],
             "mark": {"type": "text", "align": "center", "baseline": "middle", "fontSize": 19, "color": "#111"},
             "encoding": {"text": {"field": "t"}}},
            {"data": {"name": "lab"}, "transform": [{"filter": "datum.p == 'c' && datum.g == 'R'"}],
             "mark": {"type": "text", "align": "center", "baseline": "middle", "fontSize": 18, "fontStyle": "italic", "angle": -48, "color": "#111"},
             "encoding": {"text": {"field": "t"}}},
            {"data": {"name": "lab"}, "transform": [{"filter": "datum.p == 'c' && datum.g == 'Q'"}],
             "mark": {"type": "text", "align": "center", "baseline": "middle", "fontSize": 17, "angle": -52, "color": "#111"},
             "encoding": {"text": {"field": "t"}}},
            {"data": {"name": "pt"}, "transform": [{"filter": "datum.p == 'c'"}],
             "mark": {"type": "point", "filled": false, "strokeWidth": 2.6, "size": 250, "opacity": 1},
             "encoding": {
               "shape": {"field": "rock", "type": "nominal", "title": null,
                         "scale": {"domain": ["Granodiorite", "Diorite"], "range": ["M-1,0A1,0.85,0,1,1,1,0A1,0.85,0,1,1,-1,0Z", "M0,-0.9L1,0.85L-1,0.85Z"]}},
               "stroke": {"field": "rock", "type": "nominal", "title": null,
                          "scale": {"domain": ["Granodiorite", "Diorite"], "range": ["#111111", "#e8161b"]}}}},
            {"data": {"name": "tag"}, "transform": [{"filter": "datum.p == 'c'"}],
             "mark": {"type": "point", "shape": "M-1,0A1,0.7,0,1,1,1,0A1,0.7,0,1,1,-1,0Z", "filled": true, "color": "#000", "size": 1600, "opacity": 1}},
            {"data": {"name": "tag"}, "transform": [{"filter": "datum.p == 'c'"}],
             "mark": {"type": "text", "align": "center", "baseline": "middle", "fontSize": 17, "color": "white"},
             "encoding": {"text": {"field": "t"}}}
          ]
        }
      ]
    }
  ]
}
